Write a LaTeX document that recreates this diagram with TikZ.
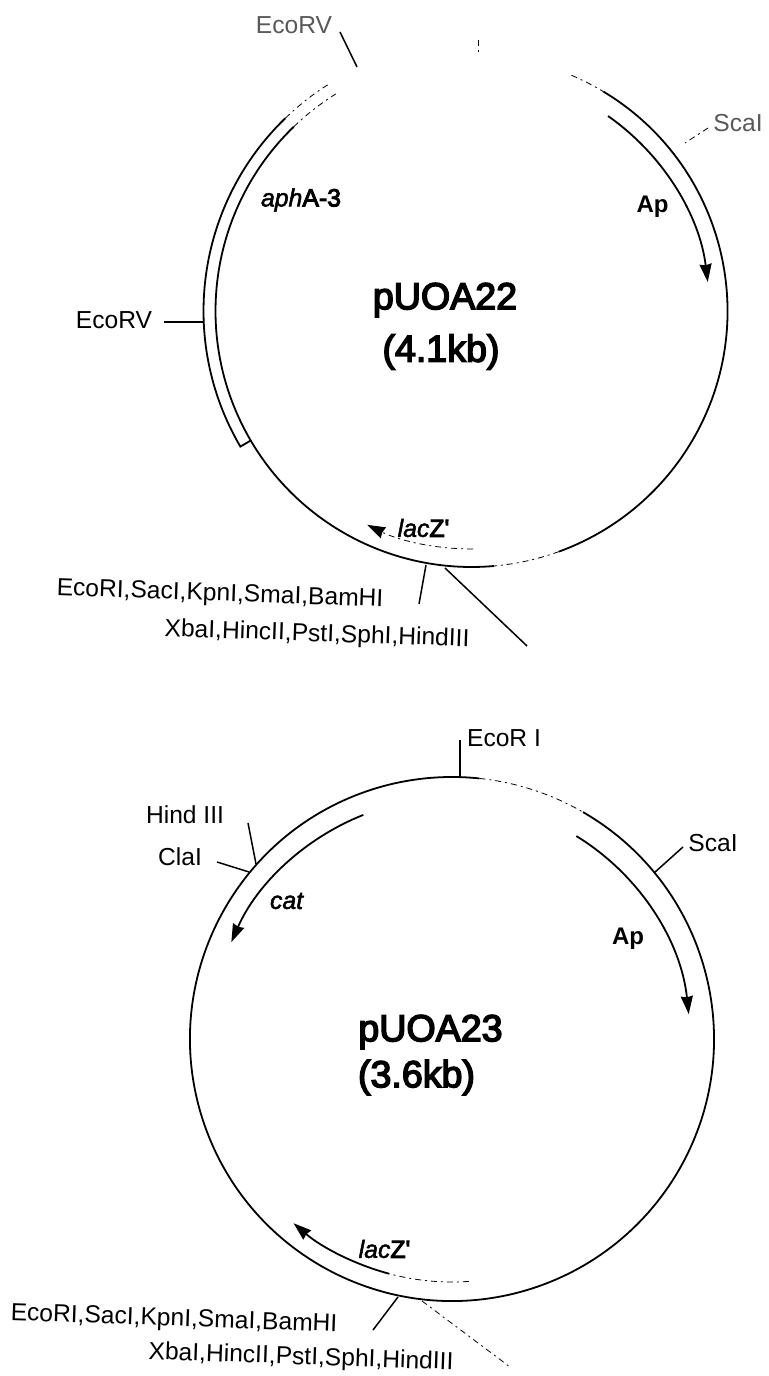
\documentclass[tikz,border=0pt]{standalone}
\usepackage{fontspec}
\setmainfont{Liberation Sans}
\newfontfamily\medfont[UprightFeatures={FakeBold=4},ItalicFeatures={FakeBold=2}]{Liberation Sans}
\usetikzlibrary{arrows.meta}
\tikzset{
  >={Stealth[length=9pt,width=6pt,inset=0.6pt]},
  backbone/.style={line width=0.9pt},
  faded/.style={line width=0.4pt, dash pattern=on 3pt off 2pt on 1pt off 2pt},
  sitetick/.style={line width=0.75pt},
  site/.style={inner sep=0pt, font=\fontsize{12.3}{14}\selectfont},
  gene/.style={inner sep=0pt, font=\fontsize{12.4}{14}\medfont},
  title/.style={inner sep=0pt, font=\fontsize{18.8}{22}\medfont},
}

\begin{document}
\begin{tikzpicture}[x=0.5pt, y=0.5pt]
    \useasboundingbox (0,0) rectangle (768,1376);

    % pUOA22
    \coordinate (C1) at (471.5,1065);
    \node[title] (name1) at (445,1076) {pUOA22};
    \node[title] (size1) at (441,1024) {(4.1kb)};
    \draw[backbone] ([shift=(59:256)]C1) arc (59:-70:256);
    \draw[faded]    ([shift=(67:256)]C1) arc (67:59:256);
    \draw[faded]    ([shift=(-70:256)]C1) arc (-70:-85:256);
    \draw[backbone] ([shift=(-85:256)]C1) arc (-85:-149.6:256);
    % aphA-3 band
    \draw[backbone] ([shift=(-149.6:256)]C1) arc (-149.6:-226:256);
    \draw[backbone] ([shift=(-149.6:256)]C1) -- ([shift=(-149.6:268)]C1)
      arc (-149.6:-226:268);
    \draw[faded] ([shift=(134:256)]C1) arc (134:122:256);
    \draw[faded] ([shift=(134:268)]C1) arc (134:122:268);
    % genes
    \draw[backbone, ->] ([shift=(55:238)]C1) arc (55:7:238);
    \draw[faded, ->]    ([shift=(-89.6:238)]C1) arc (-89.6:-116:238);
    \node[gene, font=\fontsize{12}{14}\bfseries] (ap1) at (652.5,1169) {Ap};
    \node[gene] (aph) at (301,1176) {\textit{aph}A-3};
    \node[gene] (lac1) at (423.5,848) {\textit{lac}Z'};
    % sites
    \node[site, text=black!65] (ecorv1) at (294,1351) {EcoRV};
    \node[site] (ecorv2) at (114,1056) {EcoRV};
    \node[site, text=black!65] (sca1) at (738,1253) {ScaI};
    \node[site, rotate=-2] (mcs1a) at (220,781) {EcoRI,SacI,KpnI,SmaI,BamHI};
    \node[site, rotate=-2] (mcs1b) at (317,741) {XbaI,HincII,PstI,SphI,HindIII};
    \coordinate (t1a) at (340,1344);
    \coordinate (t1b) at (357,1309);
    \coordinate (t2a) at (164,1054);
    \coordinate (t2b) at (203,1054);
    \coordinate (t3a) at (708,1248);
    \coordinate (t3b) at (685,1233);
    \coordinate (t4a) at (426,811);
    \coordinate (t4b) at (419,772);
    \coordinate (t5a) at (445,808);
    \coordinate (t5b) at (527,730);
    \coordinate (t6a) at (478,1336);
    \coordinate (t6b) at (478,1323);
    \draw[sitetick] (t1a) -- (t1b);
    \draw[sitetick] (t2a) -- (t2b);
    \draw[faded] (t3a) -- (t3b);
    \draw[sitetick] (t4a) -- (t4b);
    \draw[sitetick] (t5a) -- (t5b);
    \draw[faded] (t6a) -- (t6b);

    % pUOA23
    \coordinate (C2) at (452,337);
    \node[title] (name2) at (430.5,344) {pUOA23};
    \node[title] (size2) at (416.5,298.5) {(3.6kb)};
    \draw[backbone] (C2) ++(-70:262) arc (-70:-276:262);
    \draw[faded]    ([shift=(84:262)]C2) arc (84:60:262);
    \draw[backbone] ([shift=(60:262)]C2) arc (60:-70:262);
    \draw[faded]    ([shift=(-70:262)]C2) arc (-70:-84:262);
    % genes
    \draw[backbone, ->] ([shift=(58.5:238)]C2) arc (58.5:6:238);
    \draw[backbone, ->] ([shift=(111.6:241)]C2) arc (111.6:156.3:241);
    \draw[faded] ([shift=(-86:243)]C2) arc (-86:-105:243);
    \draw[backbone, ->] ([shift=(-105:243)]C2) arc (-105:-130.7:243);
    \node[gene, font=\fontsize{12}{14}\bfseries] (ap2) at (628,437) {Ap};
    \node[gene] (cat) at (287,475) {\textit{cat}};
    \node[gene] (lac2) at (384.5,127) {\textit{lac}Z'};
    % sites
    \node[site] (ecor) at (504,638) {EcoR I};
    \node[site] (hind) at (185,561) {Hind III};
    \node[site] (cla) at (180,519) {ClaI};
    \node[site] (sca2) at (713,533) {ScaI};
    \node[site, rotate=-2] (mcs2a) at (174,56) {EcoRI,SacI,KpnI,SmaI,BamHI};
    \node[site, rotate=-2] (mcs2b) at (301,18) {XbaI,HincII,PstI,SphI,HindIII};
    \coordinate (u1a) at (460,636);
    \coordinate (u1b) at (460,599);
    \coordinate (u2a) at (248,553);
    \coordinate (u2b) at (256,512);
    \coordinate (u3a) at (217,514);
    \coordinate (u3b) at (249,504);
    \coordinate (u4a) at (683,529);
    \coordinate (u4b) at (654,503);
    \coordinate (u5a) at (398,79);
    \coordinate (u5b) at (373,46);
    \coordinate (u6a) at (422,75);
    \coordinate (u6b) at (510,9);
    \draw[sitetick] (u1a) -- (u1b);
    \draw[sitetick] (u2a) -- (u2b);
    \draw[sitetick] (u3a) -- (u3b);
    \draw[sitetick] (u4a) -- (u4b);
    \draw[sitetick] (u5a) -- (u5b);
    \draw[faded] (u6a) -- (u6b);
\end{tikzpicture}
\end{document}
